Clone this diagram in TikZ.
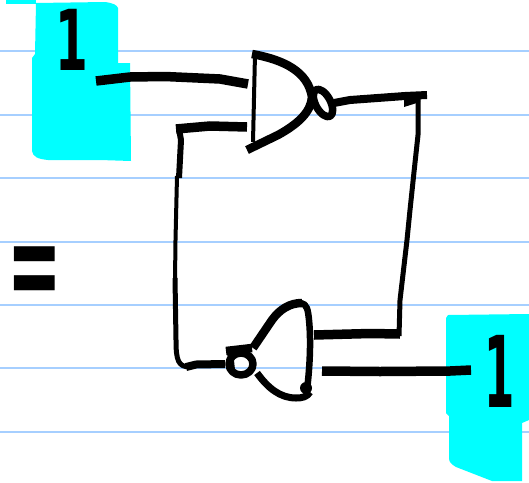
\documentclass[tikz,border=0pt]{standalone}
\usepackage{fontspec}
\setmainfont{DejaVu Sans}
\definecolor{ruleblue}{RGB}{166,207,255}
\definecolor{marker}{RGB}{0,255,255}
\tikzset{
    ruled/.style={draw=ruleblue, line width=1.6pt},
    pen/.style={draw=black, line width=9.5pt},
    gate/.style={draw=black, line width=8.5pt, line join=round},
    wire/.style={draw=black, line width=5pt, line join=round},
    digit/.style={font=\bfseries, inner sep=0pt},
    equal/.style={font=\fontsize{62}{62}\selectfont\bfseries, inner sep=0pt, xscale=1.05, yscale=2.1}
}
\begin{document}
\begin{tikzpicture}[x=1pt,y=-1pt]
\useasboundingbox (0,0) rectangle (529,482);
\foreach \rowy in {51,115,178,242,305,368,432}
    \draw[ruled] (0,\rowy) -- (529,\rowy);
% marker blocks
\fill[marker] (6,0) rectangle (36,4);
\fill[marker] (36,3) -- (105,2) .. controls (113,3) and (117,5) .. (118,8) -- (118,63) -- (130,63) -- (131,161) -- (100,160) -- (48,160) .. controls (38,159) and (33,157) .. (32,151) -- (32,58) -- (35,54) -- cycle;
\fill[marker] (448,315) -- (529,314) -- (529,420) -- (522,423) -- (522,481) -- (492,481) -- (456,467) .. controls (451,464) and (449,462) .. (449,458) -- (449,416) -- (446,413) -- (446,318) -- cycle;
% labels
\node[digit, font=\fontsize{84}{84}\selectfont\bfseries, xscale=0.56] (one a) at (72,40) {1};
\node[digit, font=\fontsize{99}{99}\selectfont\bfseries, xscale=0.44] (one b) at (500,371) {1};
\node[equal] (same) at (35,278) {=};
% upper gate
\draw[gate] (252,54) .. controls (285,60) and (308,72) .. (312,97) .. controls (311,112) and (298,124) .. (278,135) -- (247,150);
\draw[wire, line width=4pt] (255,54) -- (253,142);
\draw[gate, line width=7.5pt, rotate around={28:(323,103)}] (323,103) ellipse [x radius=7.5, y radius=15];
% lower gate
\draw[gate] (253,348) -- (272,320) .. controls (280,309) and (290,303) .. (302,303);
\draw[wire, line width=6.5pt] (301,303) .. controls (307,304) and (308,310) .. (309,320) .. controls (311,340) and (310,365) .. (307,390);
\draw[gate, line width=7pt] (257,373) .. controls (268,388) and (280,398) .. (296,398) .. controls (302,398) and (307,397) .. (310,392);
\fill (306,388) circle [radius=6];
\draw[gate] (226,351) -- (252,348);
\draw[gate, line width=7.5pt] (241,364) ellipse [x radius=12, y radius=11];
\draw[gate, line width=6pt] (230,351) -- (232,370);
% wires
\coordinate (in a) at (96,81);
\coordinate (in a end) at (248,84);
\draw[pen] (in a) -- (130,77) -- (165,76.5) -- (220,79) -- (in a end);
\coordinate (fb top) at (247,127);
\coordinate (fb corner) at (176,129);
\draw[pen] (fb top) -- (210,126) -- (fb corner);
\draw[wire, line width=6pt] (179,129) -- (181,140) -- (179,178);
\draw[wire, line width=4pt] (177,176) -- (175.5,240) -- (175,280);
\draw[wire] (175,278) -- (176,340) .. controls (176,360) and (178,367) .. (190,367);
\coordinate (fb end) at (225,364);
\draw[pen, line width=8pt] (186,367) -- (196,364.5) -- (fb end);
\coordinate (out a) at (334,103);
\coordinate (out a end) at (427,95);
\draw[pen, line width=8pt] (out a) -- (350,100) -- (405,96) -- (out a end);
\fill (404,95) -- (420,95) -- (420,102) -- (404,107) -- cycle;
\draw[wire] (418,96) -- (418,135) -- (414,172) -- (410,210) -- (407,240) -- (400,300) -- (399,336);
\coordinate (in b) at (314,335);
\coordinate (in b end) at (400,334);
\draw[pen] (in b) -- (370,333.5) -- (in b end);
\coordinate (out b) at (322,371);
\coordinate (out b end) at (471,370);
\draw[pen] (out b) -- (380,371.5) -- (450,371) -- (out b end);
\end{tikzpicture}
\end{document}
